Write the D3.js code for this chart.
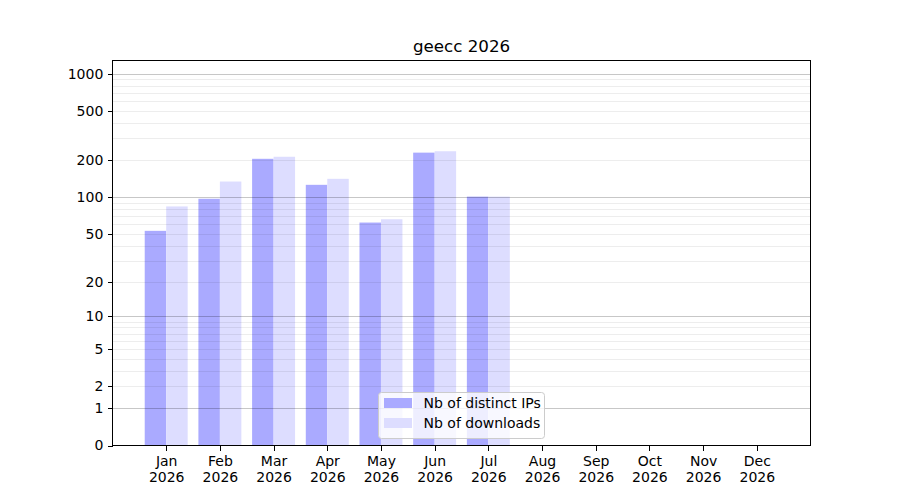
<!DOCTYPE html>
<html>
<head>
  <meta charset="utf-8">
  <title>geecc 2026</title>
  <script src="https://d3js.org/d3.v7.min.js"></script>
  <style>
    body { margin: 0; background: #fff; }
    text { font-family: "DejaVu Sans", sans-serif; fill: #000; }
  </style>
</head>

<body>
<div id="chart"></div>
<script type="text/javascript">
  let months = ['Jan', 'Feb', 'Mar', 'Apr', 'May', 'Jun', 'Jul', 'Aug', 'Sep', 'Oct', 'Nov', 'Dec'];
  let year = '2026';
  let distinctIPs = [53, 97, 205, 126, 62, 230, 101, null, null, null, null, null];
  let downloads = [84, 134, 213, 141, 66, 236, 101, null, null, null, null, null];
  let yTicks = [0, 1, 2, 5, 10, 20, 50, 100, 200, 500, 1000];
  let majorGrid = [1, 10, 100, 1000];
  let minorGrid = [2, 3, 4, 5, 6, 7, 8, 9, 20, 30, 40, 50, 60, 70, 80, 90, 200, 300, 400, 500, 600, 700, 800, 900];
  let seriesNames = ['Nb of distinct IPs', 'Nb of downloads'];
  let colors = ['#aaaaff', '#ddddff'];

  let w = 900, h = 500;
  let axLeft = 112.5, axRight = 810.5, axTop = 60.5, axBottom = 445.5;

  // x in month units, y is log10(1+x) style (symlog, constant 1)
  let xScale = d3.scaleLinear().domain([-1, 12]).range([axLeft, axRight]);
  let yScale = d3.scaleSymlog().constant(1).domain([0, 1279]).range([axBottom, axTop]);
  let slot = xScale(1) - xScale(0);
  let bw = slot * 0.4;

  let svg = d3.select('#chart')
              .append('svg')
              .attr('width', w)
              .attr('height', h);

  // bars
  let series = [distinctIPs, downloads];
  series.forEach((vals, s) => {
    svg.append('g')
       .selectAll('rect')
       .data(vals.map((v, i) => [i, v]).filter(([i, v]) => v != null))
       .enter()
       .append('rect')
       .attr('x', ([i, v]) => xScale(i) - bw + s * bw)
       .attr('y', ([i, v]) => yScale(v))
       .attr('width', bw)
       .attr('height', ([i, v]) => axBottom - yScale(v))
       .attr('fill', colors[s]);
  });

  // grid on top of the bars, like matplotlib
  svg.append('g')
     .selectAll('line')
     .data(minorGrid)
     .enter()
     .append('line')
     .attr('x1', axLeft).attr('x2', axRight)
     .attr('y1', d => Math.round(yScale(d)) + 0.5).attr('y2', d => Math.round(yScale(d)) + 0.5)
     .attr('stroke', '#000').attr('stroke-opacity', 0.07).attr('stroke-width', 1);
  svg.append('g')
     .selectAll('line')
     .data(majorGrid)
     .enter()
     .append('line')
     .attr('x1', axLeft).attr('x2', axRight)
     .attr('y1', d => Math.round(yScale(d)) + 0.5).attr('y2', d => Math.round(yScale(d)) + 0.5)
     .attr('stroke', '#000').attr('stroke-opacity', 0.22).attr('stroke-width', 1);

  // axes
  let yAxis = d3.axisLeft(yScale)
                .tickValues(yTicks)
                .tickFormat(d3.format('d'))
                .tickSizeOuter(0)
                .tickSize(5)
                .tickPadding(4.2);
  let gy = svg.append('g').attr('transform', `translate(${axLeft},0)`).call(yAxis);
  gy.select('.domain').remove();

  let xAxis = d3.axisBottom(xScale)
                .tickValues(d3.range(months.length))
                .tickFormat('')
                .tickSizeOuter(0)
                .tickSize(5);
  let gx = svg.append('g').attr('transform', `translate(0,${axBottom})`).call(xAxis);
  gx.select('.domain').remove();
  gx.selectAll('.tick').append('text')
    .attr('y', 20.5)
    .attr('text-anchor', 'middle')
    .style('font-size', '14px')
    .style('fill', '#000')
    .text(i => months[i]);
  gx.selectAll('.tick').append('text')
    .attr('y', 36.5)
    .attr('text-anchor', 'middle')
    .style('font-size', '14px')
    .style('fill', '#000')
    .text(year);

  svg.selectAll('.tick line').attr('stroke', '#000').attr('stroke-width', 1)
     .attr('shape-rendering', 'crispEdges');
  gy.selectAll('.tick text').style('font-size', '14px').style('fill', '#000');

  // frame
  svg.append('rect')
     .attr('x', axLeft).attr('y', axTop)
     .attr('width', axRight - axLeft).attr('height', axBottom - axTop)
     .attr('fill', 'none').attr('stroke', '#000').attr('stroke-width', 1);

  // title
  svg.append('text')
     .attr('x', (axLeft + axRight) / 2)
     .attr('y', 52)
     .attr('text-anchor', 'middle')
     .style('font-size', '16.7px')
     .text('geecc ' + year);

  // legend
  let lg = svg.append('g').attr('transform', 'translate(378.5,392.5)');
  lg.append('rect')
    .attr('width', 166).attr('height', 46).attr('rx', 3)
    .attr('fill', '#fff').attr('fill-opacity', 0.8)
    .attr('stroke', '#ccc').attr('stroke-width', 1);
  seriesNames.forEach((name, s) => {
    lg.append('rect')
      .attr('x', 5.5).attr('y', 5.5 + s * 20)
      .attr('width', 28).attr('height', 10)
      .attr('fill', colors[s]);
    lg.append('text')
      .attr('x', 45).attr('y', 15.5 + s * 20)
      .style('font-size', '14px')
      .text(name);
  });
</script>
</body>
</html>
